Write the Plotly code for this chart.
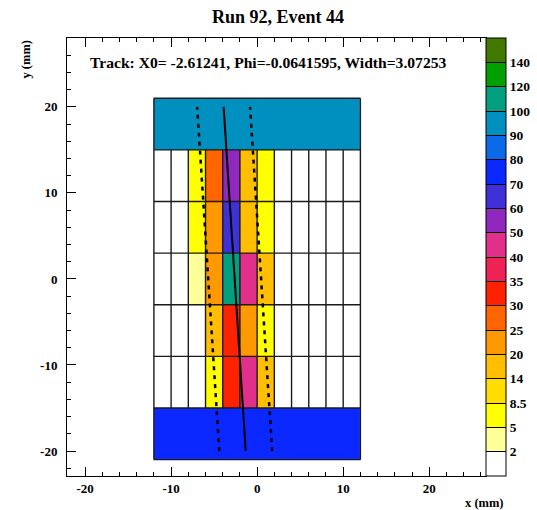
import numpy as np
import plotly.graph_objects as go

# ---- data ----
level_bounds = [2, 5, 8.5, 14, 20, 25, 30, 35, 40, 50, 60, 70, 80, 90, 100, 120, 140]
level_labels = ["2", "5", "8.5", "14", "20", "25", "30", "35", "40", "50",
                "60", "70", "80", "90", "100", "120", "140"]
level_colors = ["#FFFFFF", "#FFFF99", "#FFFF00", "#FFDD00", "#FFBF00", "#FF9900",
                "#FF6600", "#FF2200", "#EE2255", "#E0308A", "#9028C0", "#4030D8",
                "#0A28FF", "#0A6AE8", "#0090C0", "#00A080", "#00A000", "#407800"]

col_edges = [-12, -10, -8, -6, -4, -2, 0, 2, 4, 6, 8, 10, 12]
row_edges = [-21, -15, -9, -3, 3, 9, 15, 21]

# middle strips, listed from bottom (y=-15..-9) to top (y=9..15)
cell_values = [
    [0, 0, 0, 7, 33, 44, 16, 0, 0, 0, 0, 0],
    [0, 0, 0, 15, 32, 22, 7, 0, 0, 0, 0, 0],
    [0, 0, 3.5, 22, 110, 45, 16, 0, 0, 0, 0, 0],
    [0, 0, 6.5, 22, 65, 16, 6, 0, 0, 0, 0, 0],
    [0, 0, 6.5, 27, 55, 17, 7, 0, 0, 0, 0, 0],
]
bottom_value = 75
top_value = 95

track_x0 = -2.61241
track_phi = -0.0641595
track_width = 3.07253
track_y = [-20, 20]

x_range = [-22.1, 26.6]
y_range = [-22.9, 28.0]
axis_tick_vals = [-20, -10, 0, 10, 20]
axis_tick_text = ["-20", "-10", "0", "10", "20"]

# ---- build ----
nlev = len(level_colors)
colorscale = []
for i, c in enumerate(level_colors):
    colorscale.append([i / nlev, c])
    colorscale.append([(i + 1) / nlev, c])


def to_level(v):
    return int(np.searchsorted(level_bounds, v, side="right")) + 0.5


ncol = len(col_edges) - 1
rows = [[bottom_value] * ncol] + cell_values + [[top_value] * ncol]
z = [[to_level(v) for v in r] for r in rows]

font_b = dict(family="Liberation Serif", size=13, color="black", weight="bold")

fig = go.Figure()
fig.add_trace(go.Heatmap(
    x=col_edges, y=row_edges, z=z, zmin=0, zmax=nlev,
    colorscale=colorscale, hoverinfo="skip",
    colorbar=dict(
        thickness=20, thicknessmode="pixels", len=1, lenmode="fraction",
        x=1.0, xanchor="left", xpad=0, y=0.5, yanchor="middle", ypad=0,
        outlinewidth=1, outlinecolor="black",
        tickvals=list(range(1, nlev)), ticktext=level_labels,
        ticks="inside", ticklen=20, tickwidth=1, tickcolor="black",
        tickfont=dict(family="Liberation Serif", size=13.5, color="black", weight="bold"),
    ),
))

# cell borders
gx, gy = [], []
inner_bottom, inner_top = row_edges[1], row_edges[-2]
for i, xe in enumerate(col_edges):
    if i == 0 or i == len(col_edges) - 1:
        gx += [xe, xe, None]
        gy += [row_edges[0], row_edges[-1], None]
    else:
        gx += [xe, xe, None]
        gy += [inner_bottom, inner_top, None]
for ye in row_edges:
    gx += [col_edges[0], col_edges[-1], None]
    gy += [ye, ye, None]
fig.add_trace(go.Scatter(x=gx, y=gy, mode="lines",
                         line=dict(color="#1a1a1a", width=1.4),
                         hoverinfo="skip", showlegend=False))

# track
ty = np.array(track_y, dtype=float)
tx = track_x0 + ty * np.tan(track_phi)
fig.add_trace(go.Scatter(x=tx, y=ty, mode="lines",
                         line=dict(color="black", width=2),
                         hoverinfo="skip", showlegend=False))
for s in (-1, 1):
    fig.add_trace(go.Scatter(x=tx + s * track_width, y=ty, mode="lines",
                             line=dict(color="black", width=2.5, dash="4px,5px"),
                             hoverinfo="skip", showlegend=False))

axis_common = dict(
    showgrid=False, zeroline=False, showline=True, linecolor="black",
    linewidth=1, ticks="inside", ticklen=9, tickwidth=1, tickcolor="black",
    tickfont=font_b, tickvals=axis_tick_vals, ticktext=axis_tick_text,
    minor=dict(ticks="inside", ticklen=4, dtick=2, tick0=0,
               tickcolor="black", tickwidth=1),
)
fig.update_xaxes(range=x_range, mirror="ticks", **axis_common)
fig.update_yaxes(range=y_range, mirror=True, ticklabelstandoff=6,
                 **axis_common)

fig.update_layout(
    width=537, height=510,
    margin=dict(l=67, r=51, t=38, b=34, autoexpand=False),
    paper_bgcolor="white", plot_bgcolor="white",
    showlegend=False,
    annotations=[
        dict(text="Run 92, Event 44", xref="paper", yref="paper",
             x=0.503, y=1.0, yshift=21, xanchor="center", yanchor="middle",
             showarrow=False,
             font=dict(family="Liberation Serif", size=18, color="black", weight="bold")),
        dict(text="Track: X0= -2.61241, Phi=-0.0641595, Width=3.07253",
             xref="paper", yref="paper", x=0.05, y=0.944,
             xanchor="left", yanchor="middle", showarrow=False,
             font=dict(family="Liberation Serif", size=15.6, color="black", weight="bold")),
        dict(text="x (mm)", xref="paper", yref="paper", x=1.048, y=0, yshift=-27,
             xanchor="right", yanchor="middle", showarrow=False,
             font=dict(family="Liberation Serif", size=12.5, color="black", weight="bold")),
        dict(text="y (mm)", xref="paper", yref="paper", x=0, xshift=-42, y=1.0,
             xanchor="center", yanchor="top", textangle=-90, showarrow=False,
             font=dict(family="Liberation Serif", size=12.5, color="black", weight="bold")),
    ],
)

fig.write_html("out.html")
